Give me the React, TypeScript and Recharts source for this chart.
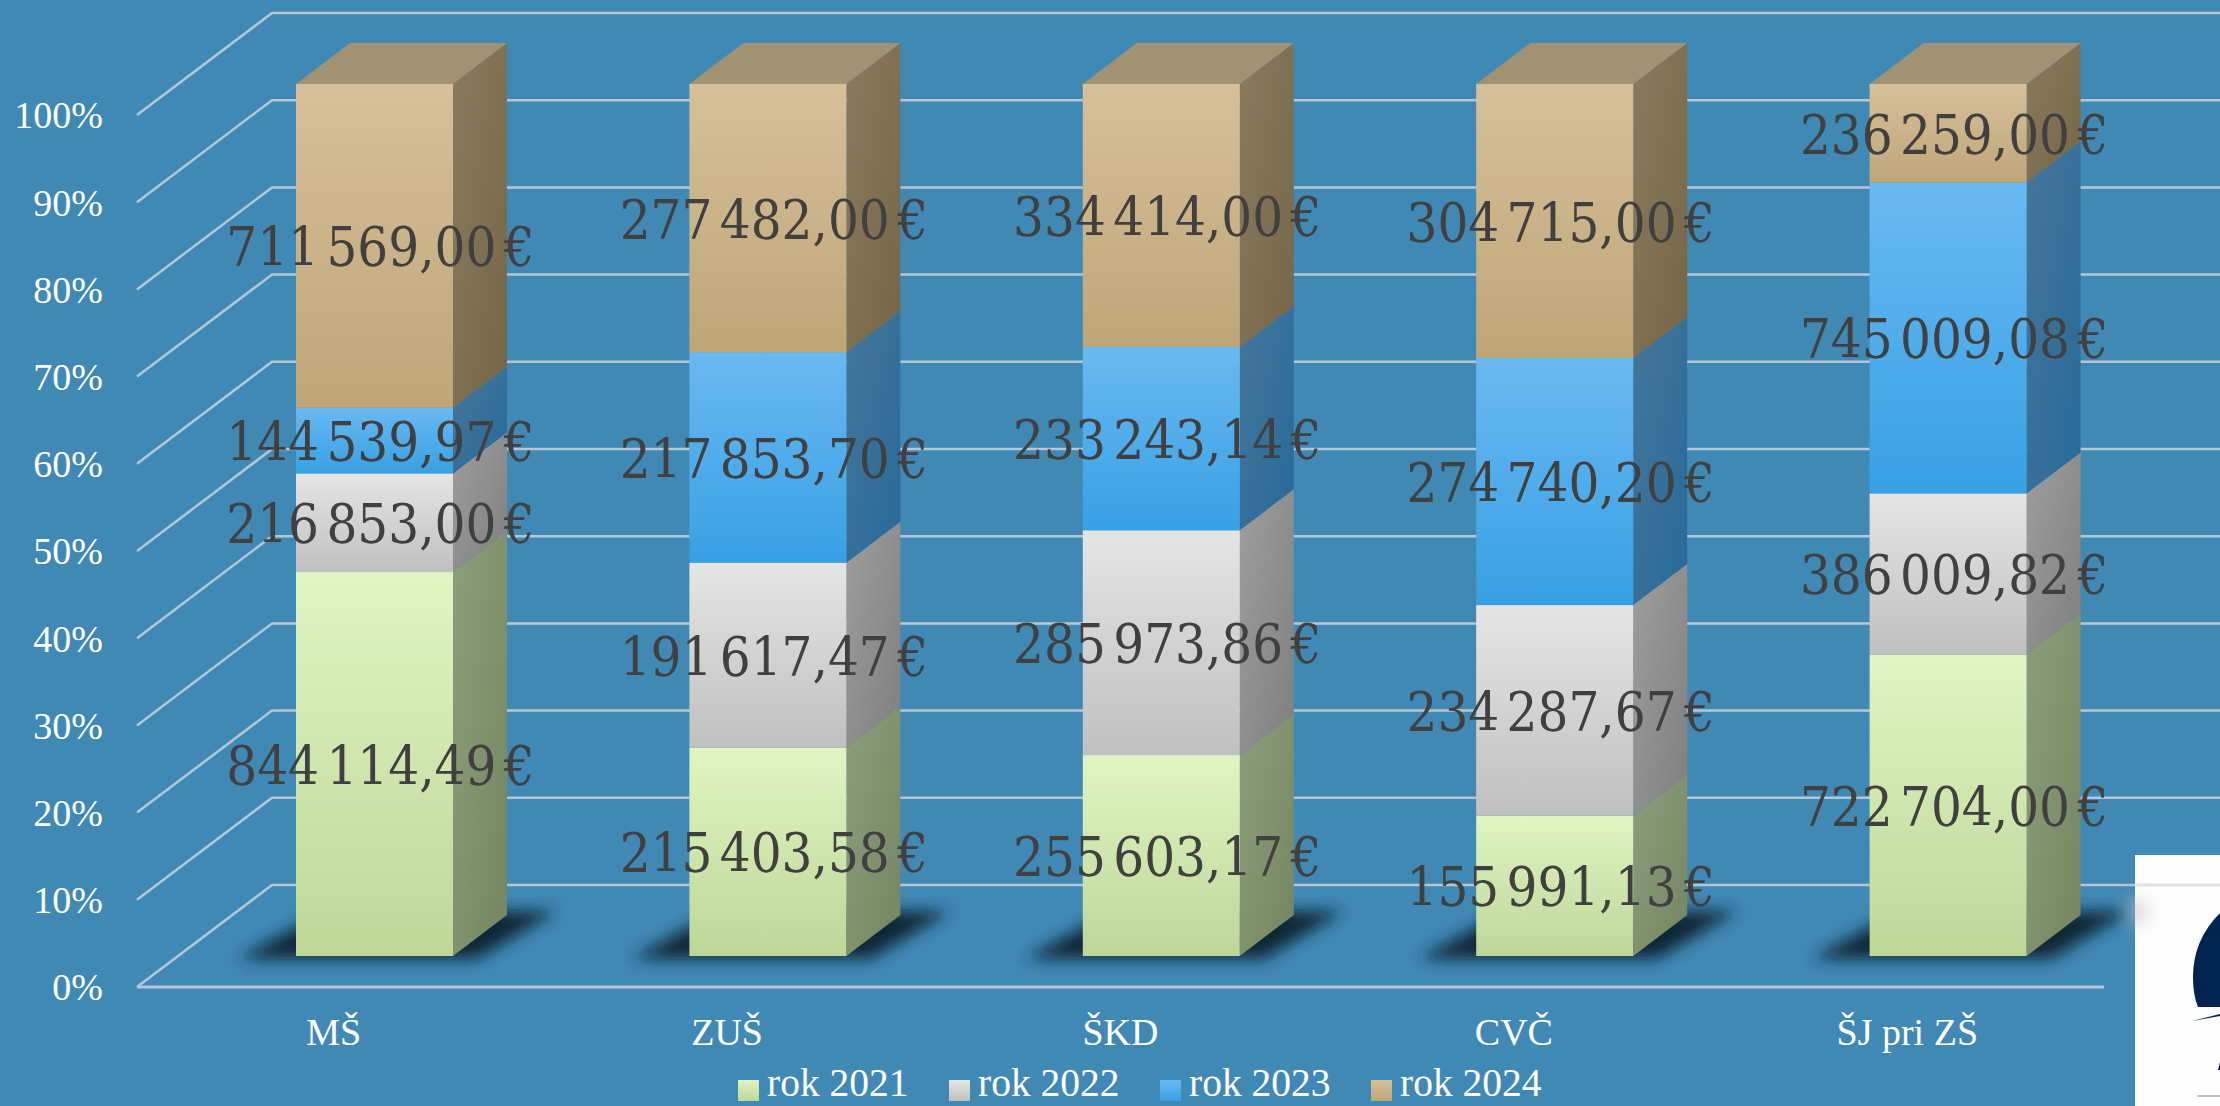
import React from "react";
import { BarChart, Bar, XAxis, YAxis, CartesianGrid, Legend, LabelList, Customized } from "recharts";

const categories = ["MŠ", "ZUŠ", "ŠKD", "CVČ", "ŠJ pri ZŠ"];
const rok2021 = [844114.49, 215403.58, 255603.17, 155991.13, 722704.0];
const rok2022 = [216853.0, 191617.47, 285973.86, 234287.67, 386009.82];
const rok2023 = [144539.97, 217853.7, 233243.14, 274740.2, 745009.08];
const rok2024 = [711569.0, 277482.0, 334414.0, 304715.0, 236259.0];
const yTicks = [0, 0.1, 0.2, 0.3, 0.4, 0.5, 0.6, 0.7, 0.8, 0.9, 1];

const data = categories.map((name, i) => ({
  name,
  y2021: rok2021[i],
  y2022: rok2022[i],
  y2023: rok2023[i],
  y2024: rok2024[i],
}));

const FONT = "'Liberation Serif', serif";
const LABEL_FONT = "'DejaVu Serif Condensed', 'DejaVu Serif', serif";
const BG = "#4189b5";
const GRID = "#b5c7d4";
const WALL_DX = 135;
const WALL_DY = 102;
const BAR_DX = 41;
const BAR_DY = 31;
const SIDE_DX = 54;
const SIDE_DY = 41;

const series = [
  { key: "y2021", name: "rok 2021", front: ["#e0f5c3", "#bdd798"], side: ["#8c9f7c", "#748560"] },
  { key: "y2022", name: "rok 2022", front: ["#e5e5e5", "#c0c0c0"], side: ["#9e9e9e", "#7f7f7f"] },
  { key: "y2023", name: "rok 2023", front: ["#6ab9f1", "#37a0e4"], side: ["#44769a", "#286a99"] },
  { key: "y2024", name: "rok 2024", front: ["#d6c09a", "#bfa678"], side: ["#8a7b60", "#746646"] },
];

const euro = (v: number) => {
  const [a, b] = v.toFixed(2).split(".");
  return a.replace(/\B(?=(\d{3})+$)/g, "\u00a0") + "," + b + "\u00a0€";
};

function BarShape(props: any) {
  const { x, y, width, height, seriesIndex } = props;
  const fx = x + BAR_DX;
  const fy = y - BAR_DY;
  const r = fx + width;
  const b = fy + height;
  return (
    <g>
      {seriesIndex === 0 && (
        <polygon
          points={`${fx - 58},${b + 3} ${r + 24},${b + 3} ${r + 104},${b - 45} ${fx + 30},${b - 45}`}
          fill="#0e2534"
          filter="url(#shadowBlur)"
        />
      )}
      <polygon
        points={`${r},${fy} ${r + SIDE_DX},${fy - SIDE_DY} ${r + SIDE_DX},${b - SIDE_DY} ${r},${b}`}
        fill={`url(#side${seriesIndex})`}
      />
      {seriesIndex === 3 && (
        <polygon
          points={`${fx},${fy} ${fx + SIDE_DX},${fy - SIDE_DY} ${r + SIDE_DX},${fy - SIDE_DY} ${r},${fy}`}
          fill="#a09272"
        />
      )}
      <rect x={fx} y={fy} width={width} height={height} fill={`url(#front${seriesIndex})`} />
    </g>
  );
}

function ValueLabel(props: any) {
  const { x, y, width, height, value } = props;
  return (
    <text
      x={x + width / 2 + BAR_DX + 6}
      y={y - BAR_DY + height / 2 + 2}
      textAnchor="middle"
      dominantBaseline="central"
      fontFamily={LABEL_FONT}
      fontSize={54}
      wordSpacing={-8}
      fill="#404040"
    >
      {euro(value)}
    </text>
  );
}

function GridLine(props: any) {
  const { x1, y1, x2 } = props;
  const isBase = Math.abs(y1 - 987) < 1;
  return (
    <g key={`g-${y1}`}>
      <polyline
        points={`${x1},${y1} ${x1 + WALL_DX},${y1 - WALL_DY} ${x2 + WALL_DX},${y1 - WALL_DY}`}
        fill="none"
        stroke={GRID}
        strokeWidth={2.5}
      />
      {isBase && <line x1={x1} y1={y1} x2={x2} y2={y1} stroke={GRID} strokeWidth={3} />}
    </g>
  );
}

function Logo() {
  return (
    <g>
      <rect x={2135} y={855} width={85} height={251} fill="#fefefe" />
      <line x1={2135} y1={885} x2={2220} y2={885} stroke="#e2e2e2" strokeWidth={3} />
      <ellipse cx={2136} cy={912} rx={14} ry={14} fill="#c8c8c8" opacity={0.5} filter="url(#shadowBlur)" />
      <path d="M2220,913 Q2193,940 2193,977 Q2193,995 2198,1007 L2220,1007 Z" fill="#00234f" />
      <path d="M2192,1021 L2220,1014 L2220,1016 Z" fill="#00234f" />
      <path d="M2218,1070 L2220,1062 L2220,1070 Z" fill="#00234f" />
      <line x1={2197} y1={1096} x2={2220} y2={1096} stroke="#808080" strokeWidth={1} />
    </g>
  );
}

function LegendContent(props: any) {
  const items = props.payload || [];
  return (
    <div style={{ position: "relative", width: 860, height: 42 }}>
      {items.map((it: any, i: number) => (
        <div key={it.value} style={{ position: "absolute", left: i * 211, top: 0, height: 42, whiteSpace: "nowrap" }}>
          <svg width={21} height={21} style={{ position: "absolute", left: 0, top: 18 }}>
            <rect width={21} height={21} fill={`url(#front${i})`} />
          </svg>
          <span
            style={{
              position: "absolute",
              left: 29,
              top: 3,
              height: 36,
              fontFamily: FONT,
              fontSize: 39.5,
              lineHeight: "36px",
              color: "#ffffff",
            }}
          >
            {it.value}
          </span>
        </div>
      ))}
    </div>
  );
}

export default function App() {
  return (
    <div style={{ position: "absolute", left: 0, top: 0, width: 2220, height: 1106, overflow: "hidden", background: BG }}>
      <BarChart
        width={2220}
        height={1106}
        data={data}
        stackOffset="expand"
        barSize={157}
        margin={{ top: 115, right: 116, bottom: 0, left: 0 }}
      >
        <defs>
          {series.map((s, i) => (
            <linearGradient key={`f${i}`} id={`front${i}`} x1="0" y1="0" x2="0" y2="1">
              <stop offset="0" stopColor={s.front[0]} />
              <stop offset="1" stopColor={s.front[1]} />
            </linearGradient>
          ))}
          {series.map((s, i) => (
            <linearGradient key={`s${i}`} id={`side${i}`} x1="0" y1="0" x2="1" y2="1">
              <stop offset="0" stopColor={s.side[0]} />
              <stop offset="1" stopColor={s.side[1]} />
            </linearGradient>
          ))}
          <filter id="shadowBlur" x="-30%" y="-60%" width="160%" height="220%">
            <feGaussianBlur stdDeviation="8" />
          </filter>
        </defs>
        <CartesianGrid vertical={false} horizontal={GridLine as any} />
        <XAxis
          dataKey="name"
          height={119}
          axisLine={false}
          tickLine={false}
          tickSize={0}
          tickMargin={31}
          interval={0}
          tick={{ fill: "#ffffff", fontFamily: FONT, fontSize: 38 }}
        />
        <YAxis
          width={137}
          domain={[0, 1]}
          ticks={yTicks}
          axisLine={false}
          tickLine={false}
          tickSize={0}
          tickMargin={34}
          tickFormatter={(v: number) => `${Math.round(v * 100)}%`}
          tick={{ fill: "#ffffff", fontFamily: FONT, fontSize: 38 }}
        />
        <Legend
          layout="horizontal"
          verticalAlign="middle"
          align="center"
          content={LegendContent as any}
          wrapperStyle={{ left: 738, top: 1062, width: 860, height: 42, bottom: "auto", right: "auto" }}
        />
        {series.map((s, i) => (
          <Bar
            key={s.key}
            dataKey={s.key}
            name={s.name}
            stackId="a"
            fill={s.front[0]}
            isAnimationActive={false}
            shape={(p: any) => <BarShape {...p} seriesIndex={i} />}
          >
            <LabelList dataKey={s.key} content={ValueLabel as any} />
          </Bar>
        ))}
        <Customized component={Logo} />
      </BarChart>
    </div>
  );
}
